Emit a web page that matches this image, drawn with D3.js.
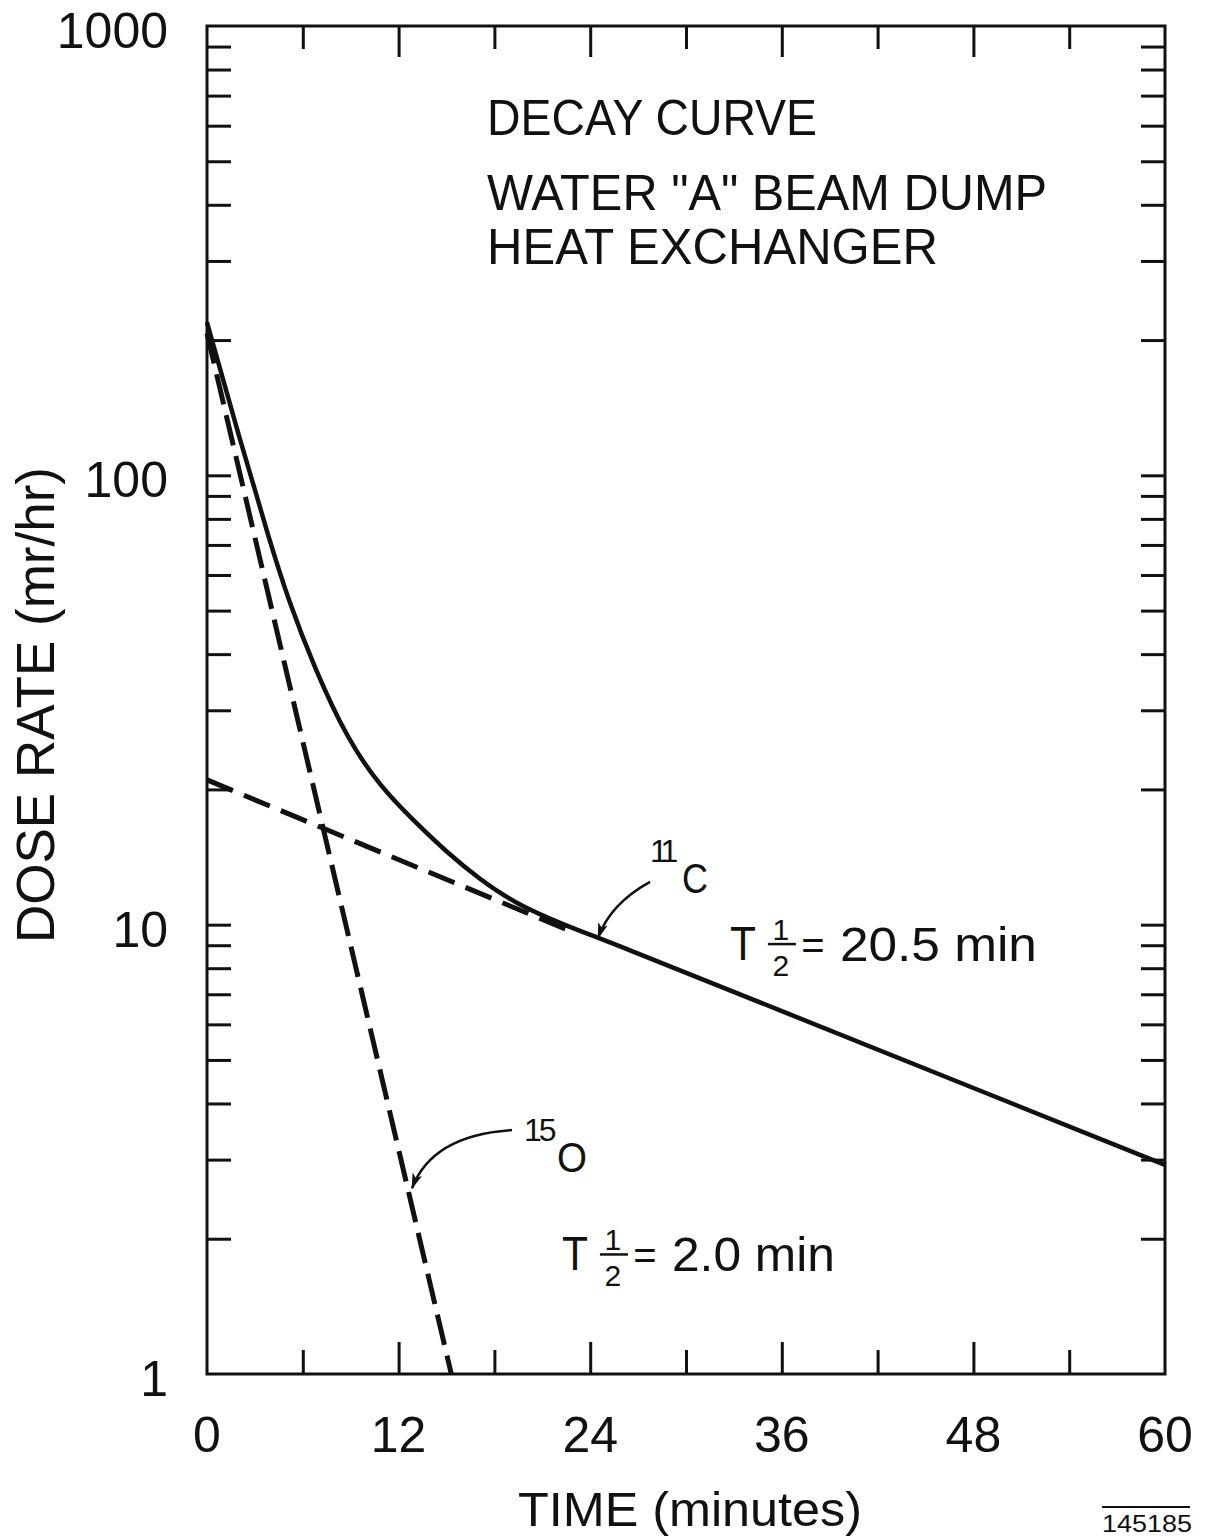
<!DOCTYPE html>
<meta charset="utf-8">
<head>
    <script src="https://d3js.org/d3.v7.min.js"></script>
</head>
<style>
    body { margin: 0; background: #fff; }
    svg text { font-family: 'Liberation Sans', 'DejaVu Sans', sans-serif; fill: #111; }
</style>
<body>
<div id="my_dataviz"></div>
<script>

    // data
    var timeTicks = [0, 12, 24, 36, 48, 60];
    var timeMinorTicks = [6, 18, 30, 42, 54];
    var doseTicks = [1, 10, 100, 1000];
    var doseMinorTicks = [2,3,4,5,6,7,8,9, 20,30,40,50,60,70,80,90, 200,300,400,500,600,700,800,900];

    // measured total dose rate (solid curve)
    var totalTime = [0, 2.0, 4.0, 5.1, 6.7, 8.8, 10.9, 12.9, 15.1, 17.1, 19.2, 22.3, 25.4, 36, 48, 60];
    var totalDose = [219, 122, 70, 52.8, 37.5, 25.8, 20.2, 17.1, 14.4, 12.6, 11.2, 10.0, 9.1, 6.42, 4.33, 2.92];

    // 15O component (dashed, T1/2 = 2.0 min)
    var oxygenTime = [0, 15.3];
    var oxygenDose = [207, 1];

    // 11C component (dashed, T1/2 = 20.5 min)
    var carbonTime = [0, 23];
    var carbonDose = [21, 9.6];

    var width = 1209, height = 1539;

    var svg = d3.select("#my_dataviz")
        .append("svg")
        .attr("width", width)
        .attr("height", height);

    var x = d3.scaleLinear().domain([0, 60]).range([207, 1165]);
    var y = d3.scaleLog().domain([1, 1000]).range([1374, 26]);

    // frame
    svg.append("rect")
        .attr("x", x(0)).attr("y", y(1000))
        .attr("width", x(60) - x(0)).attr("height", y(1) - y(1000))
        .attr("fill", "none").attr("stroke", "#111").attr("stroke-width", 3);

    // inward ticks on all four sides
    function styleAxis(g) {
        g.select(".domain").remove();
        g.selectAll(".tick line").attr("stroke", "#111").attr("stroke-width", 3);
        g.selectAll(".tick text").remove();
    }
    var inner = timeTicks.slice(1, -1);
    svg.append("g").attr("transform", "translate(0," + y(1) + ")")
        .call(d3.axisBottom(x).tickValues(inner).tickSize(-32)).call(styleAxis);
    svg.append("g").attr("transform", "translate(0," + y(1) + ")")
        .call(d3.axisBottom(x).tickValues(timeMinorTicks).tickSize(-24)).call(styleAxis);
    svg.append("g").attr("transform", "translate(0," + y(1000) + ")")
        .call(d3.axisTop(x).tickValues(inner).tickSize(-31)).call(styleAxis);
    svg.append("g").attr("transform", "translate(0," + y(1000) + ")")
        .call(d3.axisTop(x).tickValues(timeMinorTicks).tickSize(-23)).call(styleAxis);

    var yInner = [10, 100];
    svg.append("g").attr("transform", "translate(" + x(0) + ",0)")
        .call(d3.axisLeft(y).tickValues(yInner.concat(doseMinorTicks)).tickSize(-24)).call(styleAxis);
    svg.append("g").attr("transform", "translate(" + x(60) + ",0)")
        .call(d3.axisRight(y).tickValues(yInner.concat(doseMinorTicks)).tickSize(-24)).call(styleAxis);

    // tick labels
    svg.selectAll(".ylab").data(doseTicks).enter().append("text")
        .attr("x", 168).attr("y", function(d) { return y(d) + 22; })
        .attr("text-anchor", "end")
        .style("font-size", "50px")
        .text(function(d) { return d; });

    svg.selectAll(".xlab").data(timeTicks).enter().append("text")
        .attr("x", function(d) { return x(d); }).attr("y", 1452)
        .attr("text-anchor", "middle")
        .style("font-size", "50px")
        .text(function(d) { return d; });

    // axis titles
    svg.append("text")
        .attr("x", 690).attr("y", 1526)
        .attr("text-anchor", "middle")
        .attr("textLength", 344).attr("lengthAdjust", "spacingAndGlyphs")
        .style("font-size", "49px")
        .text("TIME (minutes)");

    svg.append("text")
        .attr("transform", "rotate(-90)")
        .attr("x", -705).attr("y", 54)
        .attr("text-anchor", "middle")
        .attr("textLength", 476).attr("lengthAdjust", "spacingAndGlyphs")
        .style("font-size", "54px")
        .text("DOSE RATE (mr/hr)");

    // title block
    var titleLines = [
        {text: "DECAY CURVE", y: 135, w: 330},
        {text: "WATER \"A\" BEAM DUMP", y: 210, w: 560},
        {text: "HEAT EXCHANGER", y: 264, w: 451}
    ];
    svg.selectAll(".title").data(titleLines).enter().append("text")
        .attr("x", 487).attr("y", function(d) { return d.y; })
        .attr("textLength", function(d) { return d.w; })
        .attr("lengthAdjust", "spacingAndGlyphs")
        .style("font-size", "50px")
        .text(function(d) { return d.text; });

    // curves
    var line = d3.line()
        .x(function(d) { return x(d[0]); })
        .y(function(d) { return y(d[1]); });

    svg.append("path")
        .datum(d3.zip(oxygenTime, oxygenDose))
        .attr("d", line)
        .attr("fill", "none").attr("stroke", "#111")
        .attr("stroke-width", 5).attr("stroke-dasharray", "31,11");

    svg.append("path")
        .datum(d3.zip(carbonTime, carbonDose))
        .attr("d", line)
        .attr("fill", "none").attr("stroke", "#111")
        .attr("stroke-width", 5).attr("stroke-dasharray", "28,12");

    var smooth = d3.line()
        .x(function(d) { return x(d[0]); })
        .y(function(d) { return y(d[1]); })
        .curve(d3.curveBasis);

    svg.append("path")
        .datum(d3.zip(totalTime, totalDose))
        .attr("d", smooth)
        .attr("fill", "none").attr("stroke", "#111")
        .attr("stroke-width", 4.5);

    // arrows pointing at the components
    svg.append("defs").append("marker")
        .attr("id", "head")
        .attr("viewBox", "0 0 16 10")
        .attr("refX", 15).attr("refY", 5)
        .attr("markerWidth", 16).attr("markerHeight", 10)
        .attr("markerUnits", "userSpaceOnUse")
        .attr("orient", "auto")
        .append("path").attr("d", "M0,0 L16,5 L0,10 L4,5 Z").attr("fill", "#111");

    var arrows = [
        {from: [27.75, 12.45], ctrl: [25.24, 11.12], to: [24.49, 9.34]},
        {from: [19.10, 3.49], ctrl: [14.09, 3.40], to: [12.84, 2.59]}
    ];
    svg.selectAll(".arrow").data(arrows).enter().append("path")
        .attr("d", function(d) {
            return "M" + x(d.from[0]) + "," + y(d.from[1]) +
                " Q" + x(d.ctrl[0]) + "," + y(d.ctrl[1]) +
                " " + x(d.to[0]) + "," + y(d.to[1]);
        })
        .attr("fill", "none").attr("stroke", "#111").attr("stroke-width", 2.5)
        .attr("marker-end", "url(#head)");

    // isotope labels
    var isotopes = [
        {mass: "11", sym: "C", t: 29.75, v: 11.76, ls: -5, sw: 26, dx: -32},
        {mass: "15", sym: "O", t: 21.92, v: 2.82, ls: -3, sw: 30, dx: -33}
    ];
    isotopes.forEach(function(d) {
        var g = svg.append("g").attr("transform", "translate(" + x(d.t) + "," + y(d.v) + ")");
        g.append("text").attr("x", d.dx).attr("y", -31)
            .style("letter-spacing", d.ls + "px")
            .style("font-size", "32px").text(d.mass);
        g.append("text").attr("x", 0).attr("y", 0)
            .attr("textLength", d.sw).attr("lengthAdjust", "spacingAndGlyphs")
            .style("font-size", "42px").text(d.sym);
    });

    // half-life labels
    var halfLives = [
        {value: "20.5 min", t: 32.75, v: 8.34, w: 197},
        {value: "2.0 min", t: 22.23, v: 1.70, w: 163}
    ];
    halfLives.forEach(function(d) {
        var g = svg.append("g").attr("transform", "translate(" + x(d.t) + "," + y(d.v) + ")");
        g.append("text").attr("x", 0).attr("y", 0)
            .attr("textLength", 26).attr("lengthAdjust", "spacingAndGlyphs")
            .style("font-size", "48px").text("T");
        g.append("text").attr("x", 51).attr("y", -20).attr("text-anchor", "middle")
            .style("font-size", "30px").text("1");
        g.append("line").attr("x1", 38).attr("x2", 66).attr("y1", -16).attr("y2", -16)
            .attr("stroke", "#111").attr("stroke-width", 2.5);
        g.append("text").attr("x", 51).attr("y", 16).attr("text-anchor", "middle")
            .style("font-size", "30px").text("2");
        g.append("text").attr("x", 83).attr("y", -1).attr("text-anchor", "middle")
            .style("font-size", "40px").text("=");
        g.append("text").attr("x", 110).attr("y", 1)
            .attr("textLength", d.w).attr("lengthAdjust", "spacingAndGlyphs")
            .style("font-size", "48px").text(d.value);
    });

    // drawing number
    svg.append("line").attr("x1", 1102).attr("x2", 1190).attr("y1", 1507).attr("y2", 1507)
        .attr("stroke", "#111").attr("stroke-width", 2);
    svg.append("text").attr("x", 1102).attr("y", 1532)
        .attr("textLength", 90).attr("lengthAdjust", "spacingAndGlyphs")
        .style("font-size", "24px").text("145185");

</script>
</body>
